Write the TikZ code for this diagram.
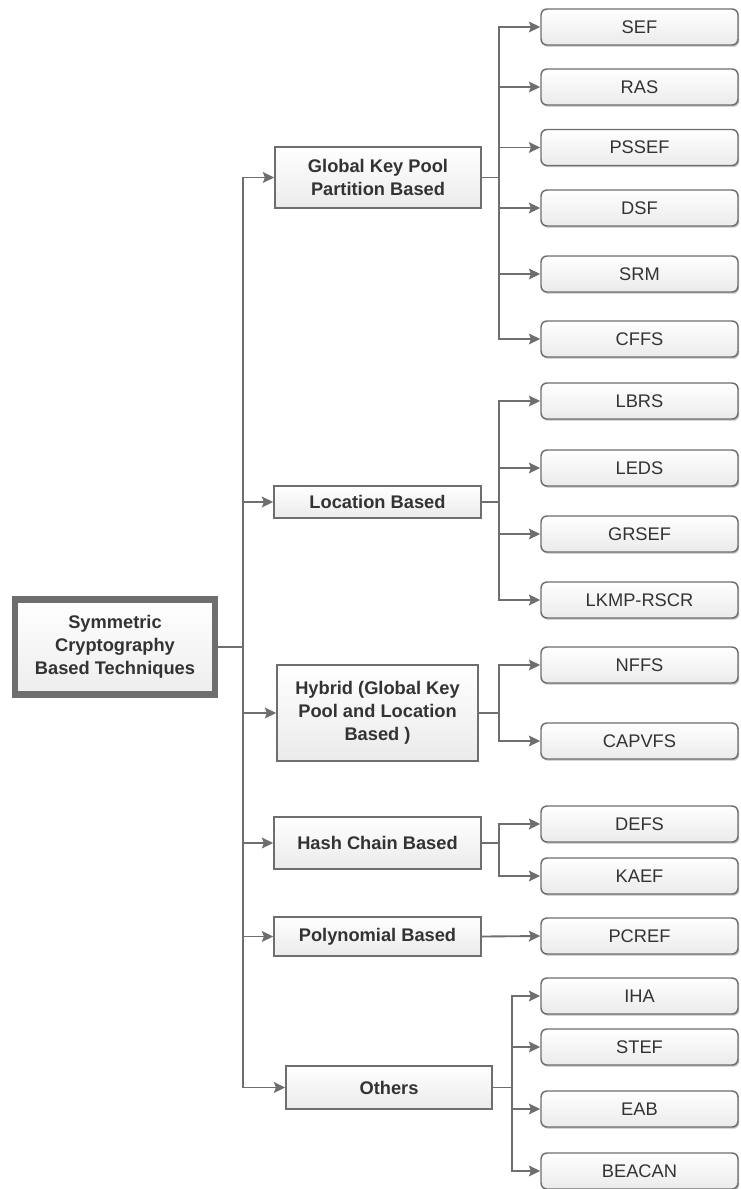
\documentclass[tikz,border=0pt]{standalone}
\usepackage{fontspec}
\setmainfont{Liberation Sans}
\usetikzlibrary{arrows.meta,shadows}
\definecolor{linec}{HTML}{6E6E6E}
\definecolor{txt}{HTML}{333333}
\tikzset{
  sz/.style 2 args={minimum width=#1*0.75pt, minimum height=#2*0.75pt},
  conn/.style={draw=linec, line width=1.4pt},
  arr/.style={conn, -{Stealth[length=8.5pt,width=8pt,inset=1.5pt]}},
  rootbox/.style={draw=linec, line width=5pt, top color=white, bottom color=gray!14, inner sep=0pt,
    align=center, text=txt, font=\fontsize{13.7}{17.2}\selectfont\bfseries},
  midbox/.style={draw=linec, line width=1.1pt, top color=white, bottom color=gray!16, inner sep=0pt,
    align=center, text=txt, font=\fontsize{13.7}{17.2}\selectfont\bfseries},
  leafbox/.style={draw=linec, line width=1.1pt, rounded corners=4.5pt, top color=white, bottom color=gray!16,
    inner sep=0pt, text=txt, font=\fontsize{13.7}{17.2}\selectfont, sz={197}{36},
    drop shadow={shadow xshift=0.9pt, shadow yshift=-1.3pt, opacity=0.25, fill=black}},
}
\begin{document}
\begin{tikzpicture}[x=0.75pt,y=-0.75pt]
\useasboundingbox (0,0) rectangle (740,1189);
% root
\node[rootbox, sz={200}{95}] (root) at (115,647) {Symmetric\\Cryptography\\Based Techniques};
% mid level
\node[midbox, sz={206}{61}] (glob) at (378,177.5) {Global Key Pool\\Partition Based};
\node[midbox, sz={207}{32}] (loc) at (377.5,502) {Location Based};
\node[midbox, sz={201}{96}] (hyb) at (377.5,713) {Hybrid (Global Key\\Pool and Location\\Based )};
\node[midbox, sz={207}{52}] (hash) at (377.5,843) {Hash Chain Based};
\node[midbox, sz={207}{39}] (poly) at (377.5,936.5) {Polynomial Based};
\node[midbox, sz={206}{43}] (oth) at (389,1087.5) {Others};
% leaves
\node[leafbox] (sef) at (639.5,27) {SEF};
\node[leafbox] (ras) at (639.5,87) {RAS};
\node[leafbox] (pssef) at (639.5,147.5) {PSSEF};
\node[leafbox] (dsf) at (639.5,208) {DSF};
\node[leafbox] (srm) at (639.5,274) {SRM};
\node[leafbox] (cffs) at (639.5,339) {CFFS};
\node[leafbox] (lbrs) at (639.5,401) {LBRS};
\node[leafbox] (leds) at (639.5,468) {LEDS};
\node[leafbox] (grsef) at (639.5,534) {GRSEF};
\node[leafbox] (lkmp) at (639.5,600) {LKMP-RSCR};
\node[leafbox] (nffs) at (639.5,665) {NFFS};
\node[leafbox] (capvfs) at (639.5,741) {CAPVFS};
\node[leafbox] (defs) at (639.5,824) {DEFS};
\node[leafbox] (kaef) at (639.5,876) {KAEF};
\node[leafbox] (pcref) at (639.5,936) {PCREF};
\node[leafbox] (iha) at (639.5,996) {IHA};
\node[leafbox] (stef) at (639.5,1047) {STEF};
\node[leafbox] (eab) at (639.5,1109) {EAB};
\node[leafbox] (beacan) at (639.5,1171) {BEACAN};
% trunk
\coordinate (tr) at (243,647);
\draw[conn] (root.east) -- (tr);
\foreach \m in {glob,loc,hyb,hash,poly,oth} \draw[arr] (tr) |- (\m.west);
% branches
\coordinate (bg) at (499,177.5);
\draw[conn] (glob.east) -- (bg);
\foreach \l in {sef,ras,pssef,dsf,srm,cffs} \draw[arr] (bg) |- (\l.west);
\coordinate (bl) at (499,502);
\draw[conn] (loc.east) -- (bl);
\foreach \l in {lbrs,leds,grsef,lkmp} \draw[arr] (bl) |- (\l.west);
\coordinate (bh) at (499,713);
\draw[conn] (hyb.east) -- (bh);
\foreach \l in {nffs,capvfs} \draw[arr] (bh) |- (\l.west);
\coordinate (bc) at (499,843);
\draw[conn] (hash.east) -- (bc);
\foreach \l in {defs,kaef} \draw[arr] (bc) |- (\l.west);
\draw[arr] (poly.east) -- (pcref.west);
\coordinate (bo) at (512,1087.5);
\draw[conn] (oth.east) -- (bo);
\foreach \l in {iha,stef,eab,beacan} \draw[arr] (bo) |- (\l.west);
\end{tikzpicture}
\end{document}
